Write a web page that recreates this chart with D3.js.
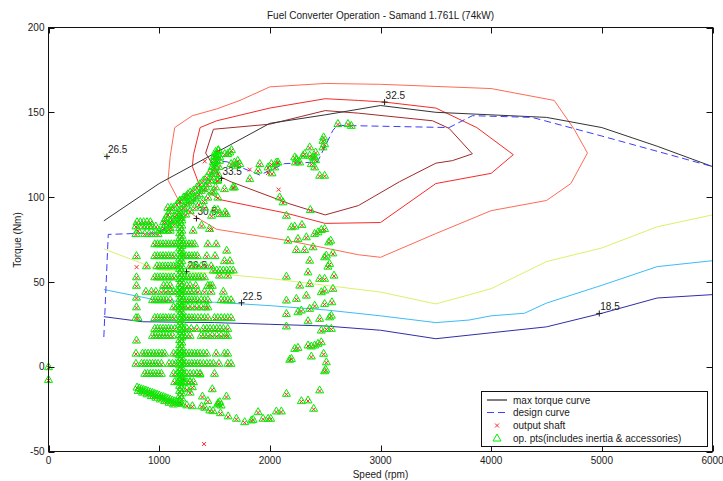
<!DOCTYPE html>
<html>
<head>
<meta charset="utf-8">
<script src="https://cdn.jsdelivr.net/npm/d3@7"></script>
<style>
  html, body { margin: 0; padding: 0; background: #fff; }
  svg { display: block; font-family: "Liberation Sans", Arial, Helvetica, sans-serif; }
</style>
</head>
<body>
<svg id="chart" width="723" height="481"></svg>
<script>
// ── Data ─────────────────────────────────────────────────────────────────────
const title = "Fuel Converter Operation - Samand 1.761L (74kW)";
const xTicks = [0, 1000, 2000, 3000, 4000, 5000, 6000];
const yTicks = [-50, 0, 50, 100, 150, 200];

// [speed rpm, torque Nm]
const maxTorqueCurve = [[500, 86], [1000, 108], [2000, 143.5], [2500, 148.5], [3000, 154], [3500, 150],
  [4000, 148.5], [4500, 147], [5000, 141], [5500, 130], [6000, 118]];

const designCurve = [[500, 17.5], [540, 78], [1000, 79], [1270, 93], [1480, 115], [1530, 121.5], [1620, 120.7],
  [1910, 113], [2130, 119.7], [2430, 120.7], [2570, 139.4], [2610, 142.3], [3620, 141], [3830, 148],
  [4370, 147], [5000, 136], [6000, 118]];

// efficiency contours (%)
const contour185 = [[500, 29.5], [850, 26.5], [1500, 26], [2000, 25], [2500, 24], [3000, 21.5], [3500, 16.5],
  [4000, 20], [4500, 23.5], [5000, 31.5], [5500, 40.5], [6000, 42.5]];
const contour225 = [[500, 45.5], [1000, 39], [1500, 38], [2000, 36], [2500, 33.5], [3000, 30], [3250, 28],
  [3500, 26], [3800, 27.5], [4000, 30], [4300, 31.5], [4500, 37.5], [5000, 48], [5500, 59], [6000, 62.5]];
const contour265 = [[500, 69.5], [1000, 57], [1500, 55], [2000, 52], [2500, 48], [3000, 44], [3500, 37],
  [4000, 46], [4500, 62], [5000, 70], [5500, 82.5], [6000, 89.5]];
const contour265b = [[490, 126], [545, 123]];
const contour305 = [[1340, 88], [1200, 95], [1080, 110], [1100, 124], [1140, 141], [1300, 148], [1520, 152],
  [1730, 157], [2000, 165], [2500, 167], [3000, 166.5], [4000, 164], [4570, 157], [4750, 140], [4870, 126],
  [4720, 108], [4500, 98], [4000, 92], [3500, 78.5], [3000, 64.5], [2800, 66], [2500, 70], [2150, 74.5],
  [1520, 81], [1340, 88]];
const contour325 = [[1370, 141], [1520, 145], [2000, 152.5], [2500, 158], [2800, 157], [3040, 156], [3500, 152.5],
  [3870, 141], [4200, 125], [4000, 114], [3500, 108], [3000, 85], [2500, 84.5], [2150, 90.5], [1550, 98.5],
  [1370, 106], [1300, 118], [1310, 125], [1370, 141]];
const contour335 = [[1490, 140], [2000, 143], [2500, 151], [2800, 149.5], [3470, 145], [3620, 140.5],
  [3830, 125.5], [3650, 121.5], [3500, 120], [3170, 109], [2800, 95], [2500, 89.5], [2180, 96], [1650, 109],
  [1550, 112], [1420, 126], [1490, 140]];

const contourLabels = [
  { text: "18.5", s: 4977, t: 31.4 },
  { text: "22.5", s: 1744, t: 37.7 },
  { text: "26.5", s: 1247, t: 56 },
  { text: "26.5", s: 528, t: 124 },
  { text: "30.5", s: 1337, t: 87.4 },
  { text: "32.5", s: 3037, t: 156 },
  { text: "33.5", s: 1563, t: 111 },
];

// op points: rows of [torque, speeds]
const opRows = [
  [85.5, [800, 830, 860, 890, 920, 1040, 1060]],
  [83, [790, 850, 880, 910, 940, 970]],
  [80.5, [810, 1000, 1030, 1070, 1100, 1307]],
  [83.5, [1383]],
  [78.5, [790, 870, 910, 950, 990]],
  [72.5, [960, 985, 1010, 1035, 1060, 1085, 1110, 1135, 1160, 1220, 1245, 1270, 1295, 1320, 1440, 1515]],
  [68.7, [1610]],
  [65.5, [795, 960, 985, 1010, 1035, 1060, 1085, 1110, 1135, 1220, 1245, 1270, 1295, 1320, 1345, 1430, 1505]],
  [62.5, [1590, 1640]],
  [59.5, [885, 980, 1005, 1030, 1055, 1080, 1105, 1130, 1155, 1280, 1310, 1340, 1380, 1420, 1470]],
  [57, [1490, 1520, 1550, 1580, 1610, 1640, 1670]],
  [53, [795, 960, 985, 1010, 1035, 1060, 1085, 1110, 1135, 1230, 1255, 1280, 1305, 1330, 1355, 1380, 1410]],
  [54, [1545, 1620]],
  [48, [795, 1040, 1070, 1100, 1250, 1280, 1330, 1440, 1460, 1480]],
  [44.5, [880, 930, 970, 1020, 1060, 1100, 1130, 1160, 1220, 1250, 1280, 1310, 1350, 1410, 1470, 1580]],
  [41, [795]],
  [39.5, [940, 965, 990, 1015, 1040, 1065, 1100, 1220, 1245, 1270, 1295, 1320, 1345, 1380, 1410, 1440, 1560,
    1590, 1620, 1650]],
  [35.3, [795, 1130, 1160, 1220, 1260, 1300, 1340, 1380, 1420, 1440]],
  [29, [790, 810, 960, 985, 1010, 1035, 1060, 1085, 1110, 1135, 1220, 1245, 1270, 1295, 1320, 1350, 1380, 1410,
    1440, 1500, 1530, 1560, 1590, 1620, 1650]],
  [22.6, [960, 985, 1010, 1035, 1060, 1085, 1110, 1140, 1220, 1250, 1290, 1340, 1400, 1430, 1460, 1490, 1520,
    1550, 1580, 1620]],
  [18.5, [940, 965, 990, 1015, 1040, 1065, 1090, 1120, 1220, 1250, 1280, 1380, 1410, 1440, 1480, 1520, 1560,
    1600, 1620]],
  [15.7, [795]],
  [8, [790, 850, 875, 900, 925, 950, 975, 1000, 1025, 1050, 1130, 1160, 1220, 1245, 1270, 1295, 1320, 1345,
    1370, 1400, 1430, 1515, 1590, 1620]],
  [2, [790, 840, 865, 890, 915, 940, 965, 990, 1020, 1090, 1120, 1150, 1220, 1245, 1270, 1295, 1320, 1345,
    1370, 1400, 1430, 1460, 1490, 1540, 1620, 1650]],
  [-3.9, [870, 895, 920, 945, 970, 995, 1020, 1130, 1160, 1220, 1250, 1280, 1310, 1340, 1370, 1500]],
  [-8.8, [1140, 1170, 1220, 1250, 1280, 1310]],
];

// dense vertical column near 1190 rpm (torques)
const opColumnSpeed = 1185;
const opColumnNm = [-20, -17, -14, -11, -8, -5, -2, 1, 4, 7, 10, 13, 16, 19, 22, 25, 28, 31, 34, 37, 40, 43,
  46, 49, 52, 55, 58, 61, 64, 67, 70, 73, 76, 79, 82, 85, 88];
const opColumn2Speed = 1205;
const opColumn2Nm = [-18.5, -15.5, -12.5, -9.5, -6.5, -3.5, -0.5, 2.5, 5.5, 8.5, 11.5, 14.5, 17.5, 20.5, 23.5,
  26.5, 29.5, 32.5, 35.5, 38.5, 41.5, 44.5, 47.5, 50.5, 53.5, 56.5, 59.5, 62.5, 65.5, 68.5, 71.5, 74.5, 77.5,
  80.5, 83.5, 86.5, 89.5];

// climbing band 1000-1550 rpm
const opBand = [[1040, 82], [1080, 84], [1100, 86], [1120, 87], [1140, 89], [1160, 90], [1180, 92], [1200, 93],
  [1220, 94], [1240, 96], [1260, 97], [1280, 98], [1300, 99], [1320, 100], [1340, 101], [1360, 102], [1380, 104],
  [1400, 105], [1420, 106], [1440, 108], [1460, 110], [1480, 112], [1490, 114], [1500, 116], [1505, 118],
  [1510, 120], [1515, 122], [1520, 124], [1525, 126], [1535, 128],
  [1060, 88], [1080, 90], [1100, 92], [1130, 94], [1160, 96], [1190, 98], [1220, 100], [1250, 101], [1280, 103],
  [1310, 104], [1340, 106], [1370, 108], [1400, 110], [1430, 112], [1460, 115], [1480, 118], [1490, 121],
  [1500, 124], [1510, 127],
  [1100, 82], [1130, 84], [1160, 86], [1200, 88], [1240, 90], [1280, 92], [1320, 94], [1360, 96], [1400, 98],
  [1440, 100], [1480, 103], [1510, 106], [1530, 110], [1530, 114], [1520, 110], [1540, 118],
  [1078, 94], [1108, 94], [1184, 98], [1229, 100], [1259, 102],
  [1490, 104], [1530, 100], [1410, 94], [1500, 93], [1530, 92.7], [1596, 91.3], [1473, 89.3], [1548, 90.3],
  [1608, 90.3], [1590, 105], [1680, 106], [1455, 81.5]];

// upper cluster 1500-2750 rpm
const opUpper = [[1533, 127.6], [1503, 124.7], [1548, 123.7], [1593, 125.7], [1638, 126.6], [1653, 128],
  [1620, 125.7], [1545, 121.7], [1680, 120.7], [1710, 121.7], [1650, 119.8], [1695, 118.8], [1728, 119.8],
  [1909, 119.8], [2014, 119.8], [2059, 120.7], [1984, 117.8], [2044, 117.8], [2074, 120.7], [2020, 114.3],
  [1894, 115.9], [1819, 110.9], [1668, 106], [2089, 100.1], [2119, 97.2], [2150, 89.3], [2366, 92.7],
  [2240, 122.7], [2270, 120.7], [2315, 125.7], [2360, 124.7], [2405, 123.7], [2405, 117.8], [2375, 119.8],
  [2300, 124.7], [2225, 123.7], [2231, 120.7], [2390, 123.7], [2414, 126.6], [2414, 122.1], [2360, 129.6],
  [2450, 112.9], [2495, 112.9], [2480, 133.5], [2495, 131.5], [2480, 129.6], [2486, 135.5],
  [2615, 143.4], [2706, 143.4], [2736, 142.3]];

// right column 2150-2600 rpm
const opRight = [[2195, 82.5], [2225, 82.9], [2290, 83.9], [2495, 81.5], [2465, 80.9], [2435, 79.5],
  [2405, 78.6], [2550, 74.6], [2532, 73.6], [2164, 74.6], [2254, 75.6], [2330, 76.6],
  [2240, 69.1], [2315, 69.1], [2390, 70.7], [2511, 65.8], [2495, 64.8], [2570, 67.1], [2360, 62.8],
  [2540, 60.9], [2525, 59.3], [2345, 55.9], [2150, 53.4], [2580, 54], [2495, 52.1], [2450, 52.1],
  [2270, 48.1], [2360, 49.1], [2570, 46.2], [2465, 44.2], [2495, 45.2], [2150, 39.3], [2240, 40.3],
  [2330, 42.2], [2405, 36.3], [2495, 37.3], [2561, 38.3], [2254, 32.4], [2285, 33.4], [2150, 31.4],
  [2360, 34.4], [2450, 28.5], [2540, 29.4], [2556, 30.4], [2345, 27.1], [2150, 24], [2465, 21.6],
  [2511, 22.6], [2556, 22.6], [2465, 14.7], [2435, 13.8], [2405, 12.8], [2375, 12.2], [2345, 12.8],
  [2254, 11.4], [2225, 10.8], [2486, 7.9], [2195, 4.9], [2180, 4.4], [2375, 6.3], [2511, 2.9],
  [2495, -2.4], [2505, -1.5], [2450, -13.7], [2150, -15.7], [2285, -20], [2345, -19.6], [2396, -24.5],
  [1894, -26.5], [1834, -31.4], [2059, -26.1], [2104, -26.1], [1939, -30.4], [1984, -30.4], [2008, -30.4]];

// negative torque band (engine braking)
const opNegative = [[800, -12], [820, -12.5], [840, -13], [860, -13.4], [880, -13.8], [900, -14.3],
  [920, -14.8], [940, -15.2], [960, -15.7], [980, -16.2], [1000, -16.7], [1020, -17.2], [1040, -17.6],
  [1060, -18.1], [1080, -18.6], [1100, -19.1], [1120, -19.6], [1140, -20.1], [1160, -20.6], [1180, -21.1],
  [1200, -21.6], [810, -14], [850, -15], [890, -16], [930, -17], [970, -18], [1010, -19], [1050, -20],
  [1090, -21], [1130, -22], [1250, -22.5], [1300, -23], [1383, -23.1], [1412, -23.9], [1458, -25.5],
  [1487, -25.9], [1554, -27.1], [1623, -29], [1698, -30.4], [1773, -32.4], [1849, -31],
  [1391, -17.3], [1608, -17.3], [1533, -21.2], [1548, -20.6], [1300, -11.8], [1277, -8.8], [1367, -4.3],
  [1187, -7.8], [1217, -6.8], [1440, -20], [1530, -22], [1560, -22.6], [1250, -13], [1280, -15], [1480, -13]];

const opIdle = [[0, 0], [0, -7.5]];

// output shaft points that sit apart from an op point
const shaftOnly = [[1406, -45], [796, 59.3], [1819, 116.8], [2080, 105], [1984, 114.8], [1473, 81.5], [1412, 121.7]];

const legendItems = ["max torque curve", "design curve", "output shaft", "op. pts(includes inertia & accessories)"];

// ── Scales ───────────────────────────────────────────────────────────────────
const svg = d3.select("#chart");
const x = d3.scaleLinear().domain([0, 6000]).range([48.5, 712.5]);
const y = d3.scaleLinear().domain([-50, 200]).range([451.5, 27.5]);
const line = d3.line().x(d => x(d[0])).y(d => y(d[1]));

svg.append("rect").attr("width", 723).attr("height", 481).attr("fill", "#fff");

// ── Contours ─────────────────────────────────────────────────────────────────
const contours = [
  { pts: contour185, color: "#2e2ea8" },
  { pts: contour225, color: "#3cbcf6" },
  { pts: contour265, color: "#dcf06a" },
  { pts: contour265b, color: "#dcf06a" },
  { pts: contour305, color: "#ff6a55" },
  { pts: contour325, color: "#f42a2a" },
  { pts: contour335, color: "#a32a2a" },
];
svg.append("g").selectAll("path").data(contours).join("path")
  .attr("d", d => line(d.pts))
  .attr("fill", "none").attr("stroke", d => d.color).attr("stroke-width", 1);

const lab = svg.append("g").selectAll("g").data(contourLabels).join("g")
  .attr("transform", d => `translate(${x(d.s)},${y(d.t)})`);
lab.append("path").attr("d", "M-3,0H3M0,-3V3").attr("stroke", "#222").attr("stroke-width", 1);
lab.append("text").attr("x", 1).attr("y", -3).attr("font-size", 10).attr("fill", "#222").text(d => d.text);

// ── Curves ───────────────────────────────────────────────────────────────────
svg.append("path").attr("d", line(maxTorqueCurve))
  .attr("fill", "none").attr("stroke", "#333").attr("stroke-width", 1);
svg.append("path").attr("d", line(designCurve))
  .attr("fill", "none").attr("stroke", "#3c3cff").attr("stroke-width", 1).attr("stroke-dasharray", "7,4");

// ── Points ───────────────────────────────────────────────────────────────────
const opPoints = [
  ...opRows.flatMap(([t, speeds]) => speeds.map(s => [s, t])),
  ...opColumnNm.map(t => [opColumnSpeed, t]),
  ...opColumn2Nm.map(t => [opColumn2Speed, t]),
  ...opBand, ...opUpper, ...opRight, ...opNegative, ...opIdle,
];
const shaftPoints = [...opPoints, ...shaftOnly];

const xMark = "M-2,-2L2,2M-2,2L2,-2";
const triMark = "M0,-4L4,3H-4Z";

svg.append("g").selectAll("path").data(shaftPoints).join("path")
  .attr("transform", d => `translate(${x(d[0])},${y(d[1]) + 1})`)
  .attr("d", xMark).attr("fill", "none").attr("stroke", "#ff2a2a").attr("stroke-width", 1);

svg.append("g").selectAll("path").data(opPoints).join("path")
  .attr("transform", d => `translate(${x(d[0])},${y(d[1])})`)
  .attr("d", triMark).attr("fill", "none").attr("stroke", "#00f000").attr("stroke-width", 1);

// ── Axes box ─────────────────────────────────────────────────────────────────
const axes = svg.append("g").attr("stroke", "#111").attr("stroke-width", 1);
axes.append("rect").attr("x", x(0)).attr("y", y(200))
  .attr("width", x(6000) - x(0)).attr("height", y(-50) - y(200)).attr("fill", "none");
xTicks.forEach(v => {
  axes.append("path").attr("d", `M${Math.round(x(v)) + 0.5},${y(-50)}v-6M${Math.round(x(v)) + 0.5},${y(200)}v6`);
});
yTicks.forEach(v => {
  axes.append("path").attr("d", `M${x(0)},${Math.round(y(v)) + 0.5}h6M${x(6000)},${Math.round(y(v)) + 0.5}h-6`);
});

const txt = svg.append("g").attr("font-size", 10).attr("fill", "#1a1a1a");
txt.selectAll(".xt").data(xTicks).join("text")
  .attr("x", d => x(d)).attr("y", 463.5).attr("text-anchor", "middle").text(d => d);
txt.selectAll(".yt").data(yTicks).join("text")
  .attr("x", 44.5).attr("y", d => y(d)).attr("dy", "0.36em").attr("text-anchor", "end").text(d => d);

txt.append("text").attr("x", 380.5).attr("y", 19).attr("text-anchor", "middle").text(title);
txt.append("text").attr("x", 380.5).attr("y", 478).attr("text-anchor", "middle").text("Speed (rpm)");
txt.append("text").attr("transform", "translate(20.5,240) rotate(-90)").attr("text-anchor", "middle").text("Torque (Nm)");

// ── Legend ───────────────────────────────────────────────────────────────────
const lg = svg.append("g");
lg.append("rect").attr("x", 481.5).attr("y", 391.5).attr("width", 226).attr("height", 55)
  .attr("fill", "#fff").attr("stroke", "#111");
const rowY = [400, 412.5, 425.5, 438];
lg.append("path").attr("d", `M487,${rowY[0]}H507`).attr("stroke", "#555").attr("stroke-width", 1.5);
lg.append("path").attr("d", `M487,${rowY[1]}H507`).attr("stroke", "#3c3cff").attr("stroke-dasharray", "7,4");
lg.append("path").attr("transform", `translate(497,${rowY[2]})`).attr("d", xMark)
  .attr("stroke", "#ff2a2a").attr("fill", "none");
lg.append("path").attr("transform", `translate(497,${rowY[3]})`).attr("d", triMark)
  .attr("stroke", "#00f000").attr("fill", "none");
lg.selectAll("text").data(legendItems).join("text")
  .attr("x", 513).attr("y", (d, i) => rowY[i]).attr("dy", "0.36em")
  .attr("font-size", 10).attr("fill", "#1a1a1a").text(d => d);
</script>
</body>
</html>
